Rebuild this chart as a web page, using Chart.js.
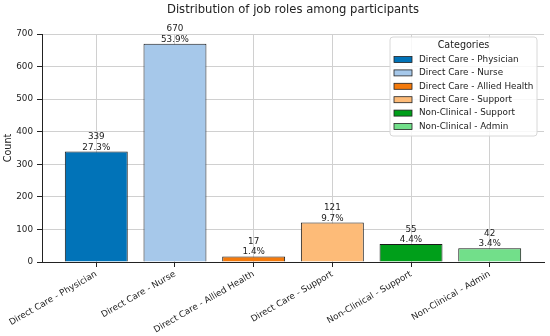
<!DOCTYPE html>
<html>
<head>
<meta charset="utf-8">
<script src="https://cdn.jsdelivr.net/npm/chart.js@4"></script>
<style>
    html, body { margin: 0; padding: 0; background: #fff; }
    #cadre { width: 550px; height: 336px; }
</style>
</head>
<body>
<div id="cadre"><canvas id="graphique-roles"></canvas></div>
<script>
const categories = [
    'Direct Care - Physician',
    'Direct Care - Nurse',
    'Direct Care - Allied Health',
    'Direct Care - Support',
    'Non-Clinical - Support',
    'Non-Clinical - Admin'
];
const effectifs = [339, 670, 17, 121, 55, 42];
const couleurs = ['#0173b8', '#a6c8ea', '#f47a0c', '#fdbb78', '#009f1a', '#72df8a'];
const graduationsY = [0, 100, 200, 300, 400, 500, 600, 700];
const titre = 'Distribution of job roles among participants';

const police = "'DejaVu Sans', sans-serif";
const total = effectifs.reduce((a, b) => a + b, 0);

// titre centré sur la zone de tracé, plus étiquettes au-dessus des barres
const etiquettes = {
    id: 'etiquettes',
    afterDatasetsDraw(chart) {
        const ctx = chart.ctx;
        const zone = chart.chartArea;
        const barres = chart.getDatasetMeta(0).data;
        ctx.save();
        ctx.fillStyle = '#222';
        ctx.textAlign = 'center';
        ctx.textBaseline = 'middle';
        ctx.font = '11.6px ' + police;
        ctx.fillText(titre, (zone.left + zone.right) / 2, 10);

        ctx.font = '8.8px ' + police;
        ctx.textBaseline = 'alphabetic';
        barres.forEach((barre, i) => {
            const pct = (effectifs[i] / total * 100).toFixed(1) + '%';
            ctx.fillText(pct, barre.x, barre.y - 2);
            ctx.fillText(String(effectifs[i]), barre.x, barre.y - 12.5);
        });
        ctx.restore();
    }
};

// légende encadrée dans la zone du graphique, façon matplotlib
const legende = {
    id: 'legende',
    afterDraw(chart) {
        const ctx = chart.ctx;
        const x = 390, y = 37, w = 147, h = 99;
        ctx.save();
        ctx.beginPath();
        ctx.roundRect(x, y, w, h, 3);
        ctx.fillStyle = 'rgba(255,255,255,0.85)';
        ctx.fill();
        ctx.strokeStyle = '#d8d8d8';
        ctx.lineWidth = 1;
        ctx.stroke();
        ctx.fillStyle = '#222';
        ctx.textAlign = 'center';
        ctx.textBaseline = 'middle';
        ctx.font = '9.6px ' + police;
        ctx.fillText('Categories', x + w / 2, y + 8);
        ctx.textAlign = 'left';
        ctx.font = '8.8px ' + police;
        categories.forEach((nom, i) => {
            const ly = y + 22.5 + i * 13.4;
            ctx.fillStyle = couleurs[i];
            ctx.fillRect(394, ly - 3, 18, 6);
            ctx.strokeStyle = '#222';
            ctx.lineWidth = 0.8;
            ctx.strokeRect(394, ly - 3, 18, 6);
            ctx.fillStyle = '#222';
            ctx.fillText(nom, 419, ly);
        });
        ctx.restore();
    }
};

new Chart(document.getElementById('graphique-roles'), {
    type: 'bar',
    data: {
        datasets: [{
            data: effectifs.map((v, i) => ({ x: i, y: v })),
            backgroundColor: couleurs,
            borderColor: '#1a1a1a',
            borderWidth: 1,
            barPercentage: 0.8,
            categoryPercentage: 1
        }]
    },
    options: {
        responsive: true,
        maintainAspectRatio: false,
        animation: false,
        layout: {
            padding: { left: 0, right: 6, top: 34, bottom: 0 }
        },
        plugins: {
            legend: { display: false },
            tooltip: { enabled: false },
            title: { display: false }
        },
        scales: {
            x: {
                type: 'linear',
                offset: false,
                min: -0.69,
                max: 5.69,
                afterBuildTicks(scale) {
                    scale.ticks = categories.map((_, i) => ({ value: i }));
                },
                afterFit(scale) {
                    scale.height = 74;
                },
                ticks: {
                    minRotation: 30,
                    maxRotation: 30,
                    autoSkip: false,
                    color: '#222',
                    padding: 2,
                    font: { family: police, size: 8.8 },
                    callback: (v) => categories[v]
                },
                grid: {
                    color: '#d0d0d0',
                    tickColor: '#222',
                    tickLength: 5,
                    offset: false
                },
                border: { display: true, color: '#222', width: 1 }
            },
            y: {
                min: 0,
                max: 700,
                afterBuildTicks(scale) {
                    scale.ticks = graduationsY.map(v => ({ value: v }));
                },
                afterFit(scale) {
                    scale.width = 42;
                },
                title: {
                    display: true,
                    text: 'Count',
                    color: '#222',
                    font: { family: police, size: 9.6 },
                    padding: { top: 3, bottom: 0 }
                },
                ticks: {
                    color: '#222',
                    padding: 4,
                    font: { family: police, size: 8.8 }
                },
                grid: {
                    color: '#d0d0d0',
                    tickColor: '#222',
                    tickLength: 5
                },
                border: { display: true, color: '#222', width: 1 }
            }
        }
    },
    plugins: [etiquettes, legende]
});
</script>
</body>
</html>
